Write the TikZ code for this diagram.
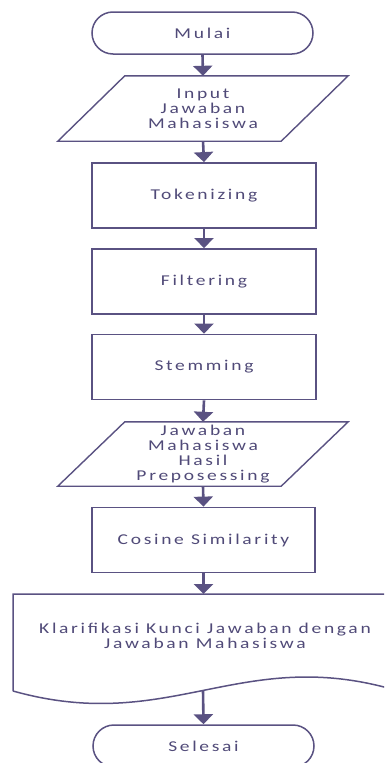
\documentclass[tikz,border=0pt]{standalone}
\usepackage{fontspec}
\setmainfont{Carlito}[LetterSpace=18,FakeStretch=1.3]
\usetikzlibrary{arrows.meta,calc}
\definecolor{linec}{RGB}{90,82,130}
\definecolor{textc}{RGB}{80,74,120}
\tikzset{
  txt/.style={text=textc,font=\fontsize{15}{14.8}\selectfont,align=center},
  box/.style={txt,draw=linec,line width=1.8pt,fill=white,minimum width=224pt,minimum height=65pt,inner sep=0pt},
  term/.style={txt,draw=linec,line width=1.5pt,fill=white,rounded corners=21pt,minimum width=221pt,minimum height=42pt,inner sep=0pt},
  io/.style={txt,minimum width=223pt,inner sep=0pt},
  para/.style={draw=linec,line width=1.4pt,fill=white},
  flow/.style={draw=linec,line width=2.6pt,-{Triangle[width=19pt,length=10pt]}}
}
\begin{document}
\begin{tikzpicture}[x=1pt,y=-1pt]
\useasboundingbox (0,0) rectangle (384,763);
\clip (0,0) rectangle (384,763);
% start
\node[term] (start) at (202.5,33) {Mulai};
% input
\node[io,minimum height=65pt] (inp) at (203,108.5) {};
\draw[para] ($(inp.north west)+(33.5,0)$) -- ($(inp.north east)+(33.5,0)$) -- ($(inp.south east)+(-33.5,0)$) -- ($(inp.south west)+(-33.5,0)$) -- cycle;
\node[io] (inptext) at (inp) {Input\\Jawaban\\Mahasiswa};
% process boxes
\node[box] (tok) at (204,195.5) {Tokenizing};
\node[box] (fil) at (204,281.5) {Filtering};
\node[box] (stem) at (204,367) {Stemming};
% output of preprocessing
\node[io,minimum height=64pt] (hasil) at (203,454) {};
\draw[para] ($(hasil.north west)+(33.5,0)$) -- ($(hasil.north east)+(33.5,0)$) -- ($(hasil.south east)+(-33.5,0)$) -- ($(hasil.south west)+(-33.5,0)$) -- cycle;
\node[io] (hasiltext) at (hasil) {Jawaban\\Mahasiswa\\Hasil\\Preposessing};
\node[box,minimum width=223pt] (cos) at (203.5,540) {Cosine Similarity};
% document
\draw[draw=linec,line width=1.5pt,fill=white] (13,691) -- (13,594) -- (395,594) -- (395,690) .. controls (240,645) and (170,735) .. (13,691);
\node[txt] (klar) at (205,636) {Klarifikasi Kunci Jawaban dengan\\Jawaban Mahasiswa};
\coordinate (doctop) at (203.5,594);
\coordinate (docb) at (203,690);
% end
\node[term] (end) at (203.5,746) {Selesai};
% connectors
\draw[flow] (start.south) -- (inp.north);
\draw[flow] (inp.south) -- (tok.north);
\draw[flow] (tok.south) -- (fil.north);
\draw[flow] (fil.south) -- (stem.north);
\draw[flow] (stem.south) -- (hasil.north);
\draw[flow] (hasil.south) -- (cos.north);
\draw[flow] (cos.south) -- (doctop);
\draw[flow] (docb) -- (end.north);
\end{tikzpicture}
\end{document}
